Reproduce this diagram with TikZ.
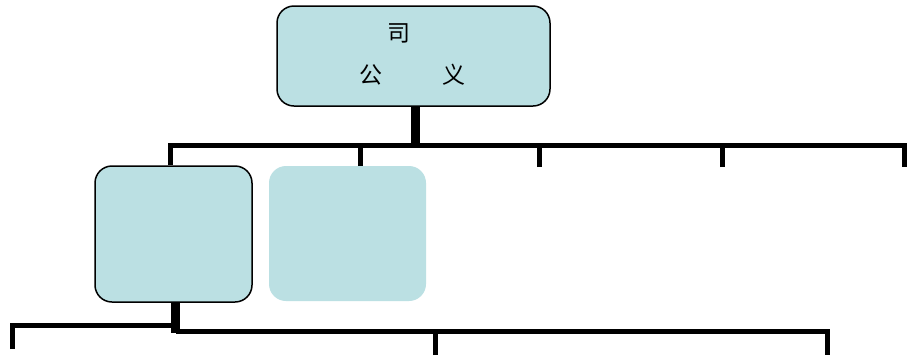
\documentclass[tikz,border=0pt]{standalone}
\usepackage{fontspec}
\newfontfamily\cjk{Noto Sans CJK SC}
\definecolor{boxblue}{RGB}{187,224,227}
\begin{document}
\begin{tikzpicture}[x=1pt,y=-1pt,
  boxb/.style={draw=black,line width=1.5pt,fill=boxblue,rounded corners=17pt,inner sep=0pt},
  boxn/.style={fill=boxblue,rounded corners=17pt,inner sep=0pt},
  lbl/.style={font=\cjk\fontsize{23}{25}\selectfont,inner sep=0pt},
  bar/.style={line width=5pt,line join=miter,line cap=butt},
  stem/.style={line width=9pt}]
\useasboundingbox (0,0) rectangle (907,360);
\fill[white] (0,0) rectangle (907,360);
% boxes
\node[boxb,minimum width=273pt,minimum height=100pt] (top) at (413.5,56) {};
\node[boxb,minimum width=157pt,minimum height=136pt] (b2) at (173.5,234) {};
\node[boxn,minimum width=157pt,minimum height=135pt] (b3) at (347.5,233.5) {};
% texts
\node[lbl] (t1) at (399,33) {司};
\node[lbl] (t2) at (371,75) {公};
\node[lbl] (t3) at (454,75) {义};
% level 1 connectors
\coordinate (busL) at (170,145.5);
\coordinate (busR) at (904,145.5);
\coordinate (d2) at (360,166);
\coordinate (d3) at (539,167);
\coordinate (d4) at (722,167);
\coordinate (d5) at (904,167);
\draw[stem] ([xshift=1.5pt]top.south) -- ++(0,38);
\draw[bar] ([xshift=-3.5pt]b2.north) -- (busL) -- (busR) -- (d5);
\draw[bar] (d2) -- (d2 |- busL);
\draw[bar] (d3) -- (d3 |- busL);
\draw[bar] (d4) -- (d4 |- busL);
% level 2 connectors
\coordinate (lL) at (12,325);
\coordinate (lLd) at (12,349);
\coordinate (lR) at (827.5,331.5);
\coordinate (lRd) at (827.5,355);
\coordinate (lM) at (435,355);
\draw[stem] ([xshift=2pt]b2.south) -- ++(0,30);
\draw[bar] (lLd) -- (lL) -- ([xshift=2pt]b2.south |- lL);
\draw[bar] ([xshift=2pt]b2.south |- lR) -- (lR) -- (lRd);
\draw[bar] (lM) -- (lM |- lR);
\end{tikzpicture}
\end{document}
